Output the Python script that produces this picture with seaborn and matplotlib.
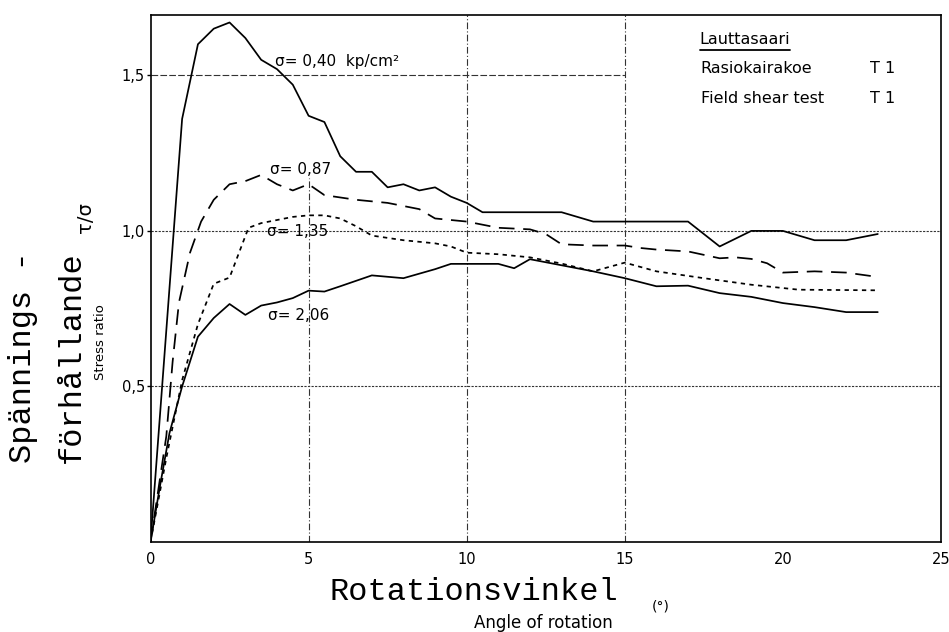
import matplotlib
matplotlib.use("Agg")
import matplotlib.pyplot as plt
from matplotlib.lines import Line2D
import seaborn as sns
import pandas as pd

# Rotation angle (deg) and stress ratio tau/sigma for each normal stress level
angle_040 = [0, 1.0, 1.5, 2.0, 2.5, 3.0, 3.5, 4.0, 4.5, 5.0, 5.5, 6.0, 6.5, 7.0, 7.5, 8.0,
             8.5, 9.0, 9.5, 10.0, 10.5, 13.0, 14.0, 15.0, 17.0, 18.0, 19.0, 20.0, 21.0,
             22.0, 23.0]
ratio_040 = [0, 1.36, 1.60, 1.65, 1.67, 1.62, 1.55, 1.52, 1.47, 1.37, 1.35, 1.24, 1.19,
             1.19, 1.14, 1.15, 1.13, 1.14, 1.11, 1.09, 1.06, 1.06, 1.03, 1.03, 1.03, 0.95,
             1.00, 1.00, 0.97, 0.97, 0.99]

angle_087 = [0, 0.25, 0.5, 0.7, 0.9, 1.25, 1.6, 2.0, 2.5, 3.0, 3.5, 4.0, 4.5, 5.0, 5.5,
             6.5, 7.5, 8.5, 9.0, 9.5, 10.0, 11.0, 12.0, 12.5, 13.0, 14.0, 15.0, 15.5,
             16.0, 17.0, 18.0, 18.5, 19.0, 19.5, 20.0, 21.0, 22.0, 23.0]
ratio_087 = [0, 0.17, 0.34, 0.58, 0.77, 0.93, 1.03, 1.10, 1.15, 1.16, 1.18, 1.15, 1.13,
             1.15, 1.115, 1.10, 1.09, 1.07, 1.04, 1.035, 1.03, 1.01, 1.005, 0.99, 0.957,
             0.953, 0.953, 0.945, 0.94, 0.934, 0.912, 0.915, 0.91, 0.896, 0.866, 0.87,
             0.866, 0.852]

angle_135 = [0, 0.5, 1.0, 1.5, 2.0, 2.5, 2.8, 3.1, 3.5, 4.0, 4.5, 5.0, 5.5, 6.0, 6.5,
             7.0, 8.0, 9.0, 9.5, 10.0, 11.0, 12.0, 13.0, 14.0, 15.0, 16.0, 17.5, 19.0,
             20.5, 23.0]
ratio_135 = [0, 0.27, 0.52, 0.70, 0.83, 0.85, 0.93, 1.01, 1.025, 1.035, 1.045, 1.05, 1.05,
             1.04, 1.015, 0.985, 0.97, 0.96, 0.95, 0.93, 0.925, 0.915, 0.895, 0.87, 0.898,
             0.87, 0.848, 0.827, 0.811, 0.809]

angle_206 = [0, 0.3, 0.6, 1.0, 1.5, 2.0, 2.5, 3.0, 3.5, 4.0, 4.5, 5.0, 5.5, 6.0, 7.0,
             8.0, 9.0, 9.5, 10.0, 11.0, 11.5, 12.0, 14.0, 15.0, 16.0, 17.0, 18.0, 19.0,
             20.0, 21.0, 22.0, 23.0]
ratio_206 = [0, 0.18, 0.35, 0.50, 0.66, 0.72, 0.765, 0.73, 0.76, 0.77, 0.784, 0.808,
             0.805, 0.822, 0.857, 0.848, 0.877, 0.894, 0.894, 0.894, 0.88, 0.909, 0.87,
             0.848, 0.822, 0.824, 0.80, 0.788, 0.768, 0.755, 0.739, 0.739]

curve_labels = ["σ= 0,40  kp/cm²", "σ= 0,87", "σ= 1,35", "σ= 2,06"]
x_ticks = [0, 5, 10, 15, 20, 25]
x_tick_labels = ["0", "5", "10", "15", "20", "25"]
y_ticks = [0.5, 1.0, 1.5]
y_tick_labels = ["0,5", "1,0", "1,5"]
site_title = "Lauttasaari"
site_rows = ["Rasiokairakoe", "Field shear test"]
site_codes = ["T 1", "T 1"]

W, H = 949, 632

sns.set_theme(style="white")
plt.rcParams["font.family"] = ["DejaVu Sans"]
plt.rcParams["axes.edgecolor"] = "black"
plt.rcParams["text.color"] = "black"
plt.rcParams["axes.labelcolor"] = "black"
plt.rcParams["xtick.color"] = "black"
plt.rcParams["ytick.color"] = "black"

fig = plt.figure(figsize=(W / 100, H / 100), dpi=100)
ax = fig.add_axes([150.5 / W, 1 - 542 / H, (941 - 150.5) / W, (542 - 15) / H])


def fx(px):
    return px / W


def fy(py):
    return 1 - py / H


# Grid lines of the chart paper
grid_kw = dict(color="#333333", linewidth=0.8, zorder=1)
ax.axhline(0.5, linestyle=(0, (2, 1.2)), **grid_kw)
ax.axhline(1.0, linestyle=(0, (2, 1.2)), **grid_kw)
ax.axhline(1.5, xmax=15 / 25, linestyle=(0, (6, 2)), **grid_kw)
ax.axvline(5, ymax=1.17 / 1.694, linestyle=(0, (6, 2, 1, 2)), **grid_kw)
ax.axvline(10, linestyle=(0, (6, 2, 1, 2)), **grid_kw)
ax.axvline(15, linestyle=(0, (6, 2, 1, 2)), **grid_kw)

series = [
    (angle_040, ratio_040, "-"),
    (angle_087, ratio_087, (0, (9, 5))),
    (angle_135, ratio_135, (0, (2.5, 2.5))),
    (angle_206, ratio_206, "-"),
]
for xs, ys, ls in series:
    df = pd.DataFrame({"angle": xs, "ratio": ys})
    sns.lineplot(data=df, x="angle", y="ratio", ax=ax, color="black",
                 linewidth=1.25, linestyle=ls, estimator=None, sort=False, zorder=3)

ax.set_xlim(0, 25)
ax.set_ylim(0, 1.694)
ax.set_xticks(x_ticks)
ax.set_xticklabels(x_tick_labels, fontsize=10.5)
ax.set_yticks(y_ticks)
ax.set_yticklabels(y_tick_labels, fontsize=10.5)
ax.tick_params(axis="x", length=0, pad=7, colors="black")
ax.tick_params(axis="y", length=3, width=1, pad=1, direction="out", left=True, colors="black")
ax.set_xlabel("")
ax.set_ylabel("")
for s in ax.spines.values():
    s.set_linewidth(1.2)
    s.set_color("black")

# Curve labels
label_pos = [(3.94, 1.543), (3.78, 1.196), (3.68, 0.997), (3.71, 0.727)]
for txt, (lx, ly) in zip(curve_labels, label_pos):
    ax.text(lx, ly, txt, fontsize=11, ha="left", va="center", color="black", zorder=4)

# Site block in the upper right
t_title = ax.text(17.37, 1.614, site_title, fontsize=11.5, ha="left", va="center")
for row, code, yy in zip(site_rows, site_codes, [1.521, 1.424]):
    ax.text(17.4, yy, row, fontsize=11.5, ha="left", va="center")
    ax.text(22.74, yy, code, fontsize=11.5, ha="left", va="center")

# Axis titles
mono = "Liberation Mono"
fig.text(fx(474), fy(592), "Rotationsvinkel", family=mono, fontsize=23,
         ha="center", va="center")
fig.text(fx(661), fy(607), "(°)", fontsize=10, ha="center", va="center")
fig.text(fx(543), fy(623), "Angle of rotation", fontsize=12, ha="center", va="center")

fig.text(fx(23), fy(463), "Spännings -", family=mono, fontsize=23, rotation=90,
         ha="center", va="bottom")
fig.text(fx(72), fy(463), "förhållande", family=mono, fontsize=23, rotation=90,
         ha="center", va="bottom")
fig.text(fx(86), fy(218), "τ/σ", fontsize=14, rotation=90, ha="center", va="center")
fig.text(fx(101), fy(380), "Stress ratio", fontsize=9.5, rotation=90,
         ha="center", va="bottom")

# Underline the site name
fig.canvas.draw()
bb = t_title.get_window_extent().transformed(fig.transFigure.inverted())
fig.add_artist(Line2D([bb.x0, bb.x1], [bb.y0 - 0.004, bb.y0 - 0.004],
                      transform=fig.transFigure, color="black", linewidth=1.3))

fig.savefig("out.png", dpi=100, facecolor="white")
